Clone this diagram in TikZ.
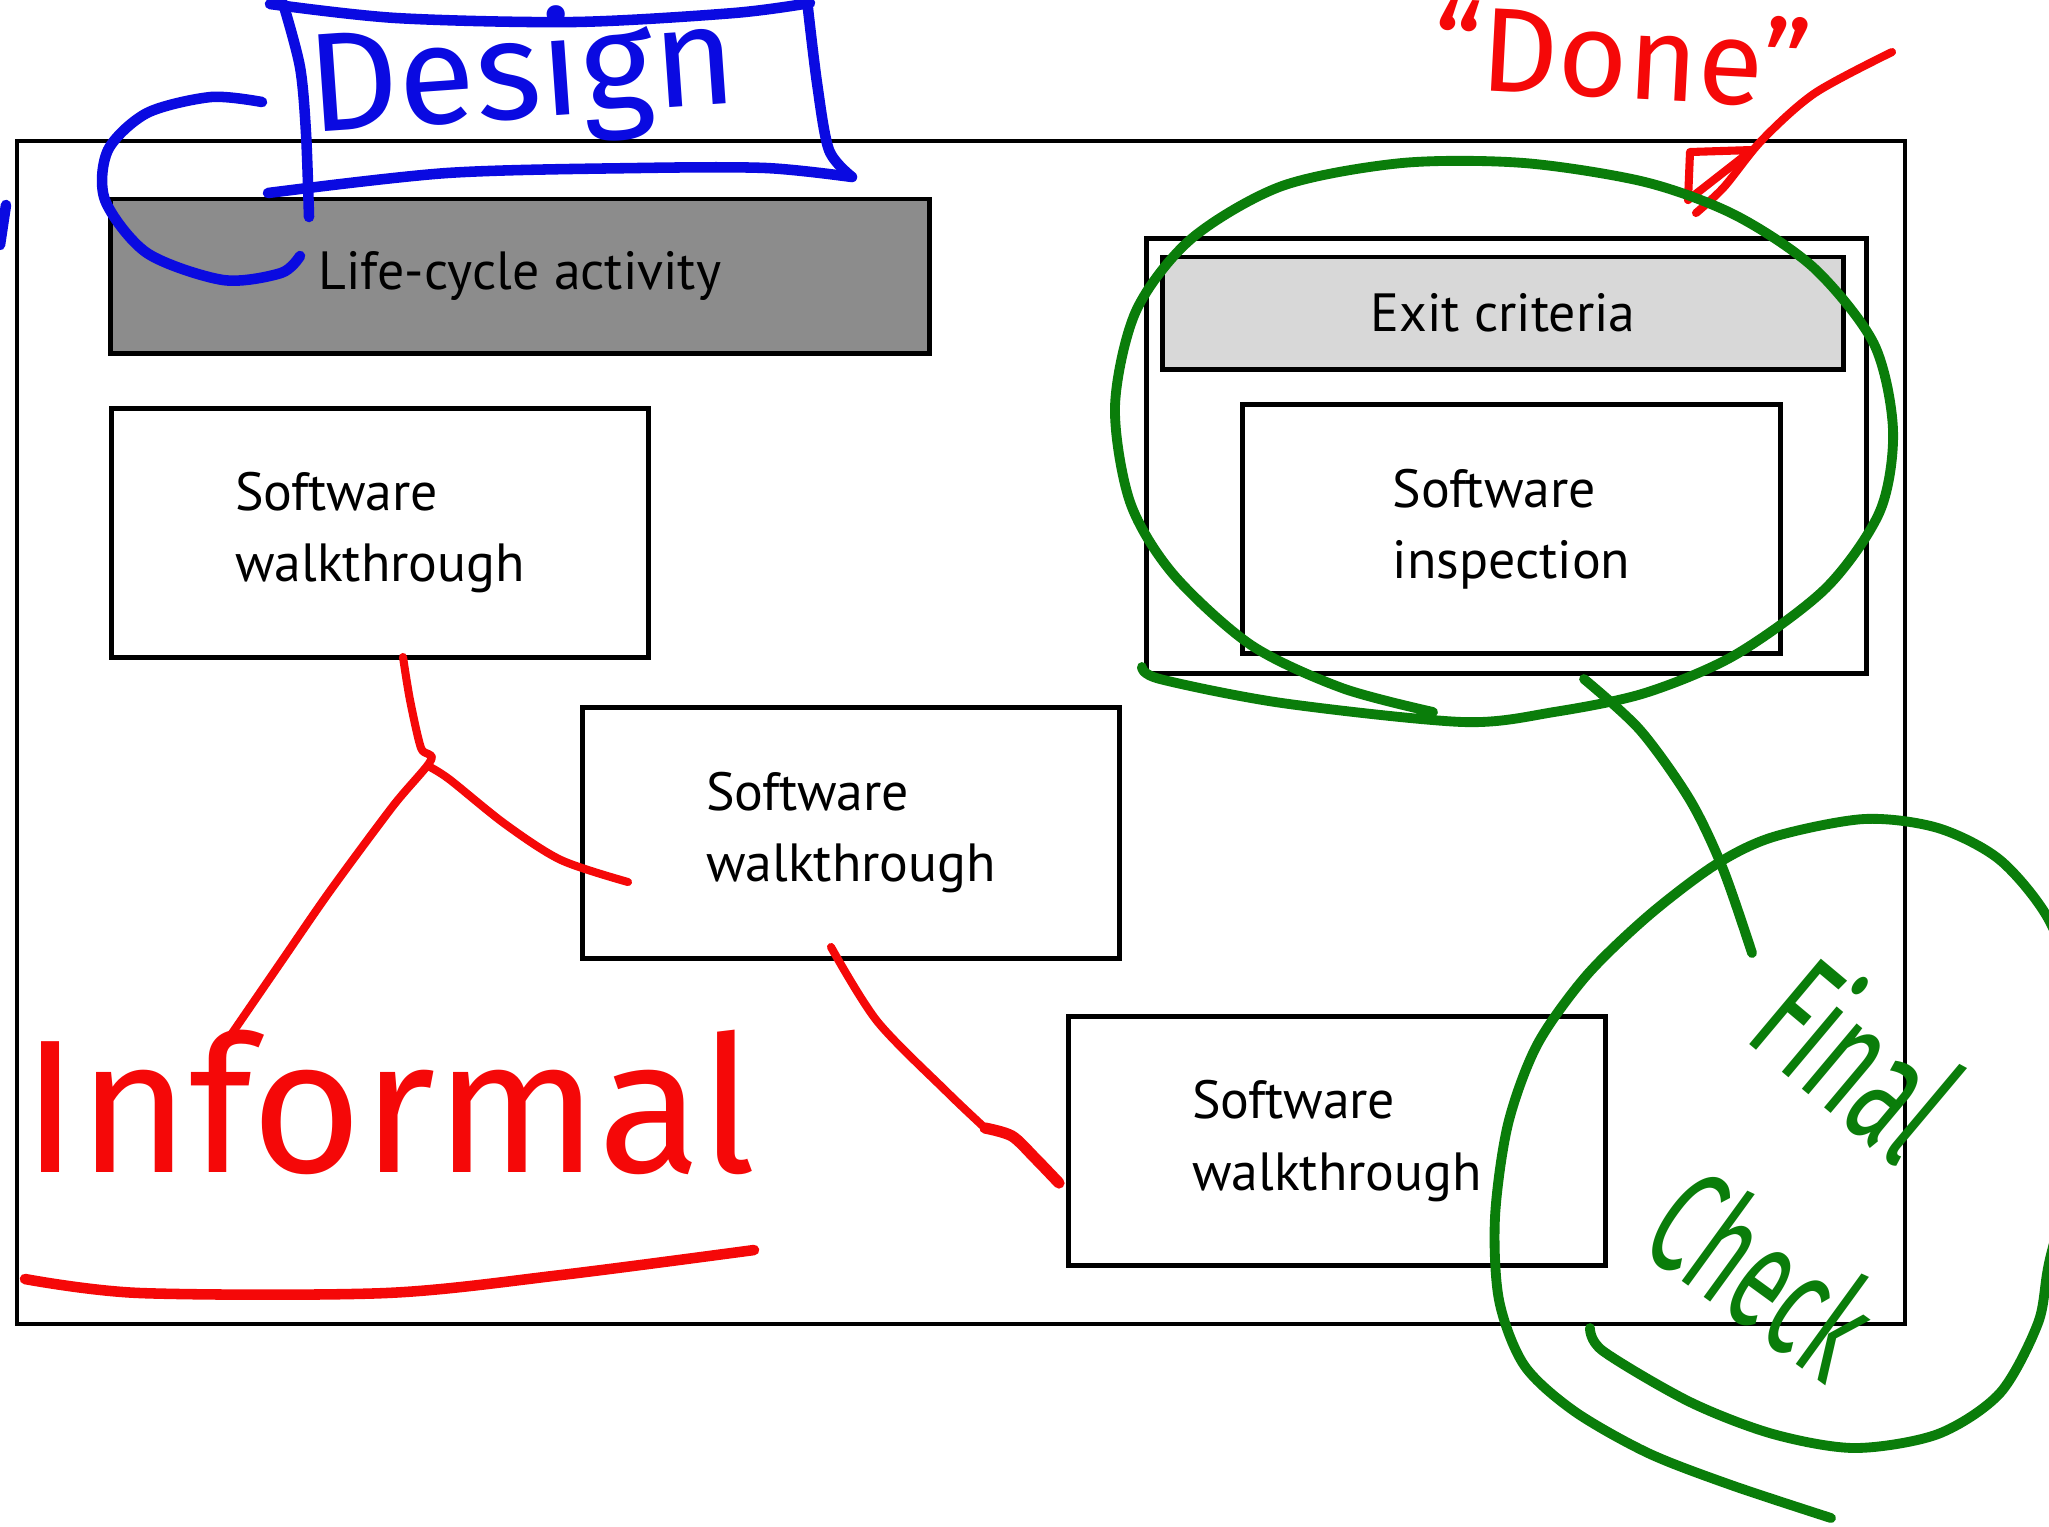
\documentclass[tikz,border=0pt]{standalone}
\usepackage{fontspec}
\setmainfont{PT Sans}
\newfontfamily\handfont{Fira Sans}
\newfontfamily\handnarrow{Fira Sans}[FakeStretch=0.58]
\definecolor{inkred}{RGB}{245,8,8}
\definecolor{inkblue}{RGB}{10,10,225}
\definecolor{inkgreen}{RGB}{10,125,10}
\definecolor{darkfill}{RGB}{140,140,140}
\definecolor{lightfill}{RGB}{216,216,216}

\begin{document}
\begin{tikzpicture}[x=0.01cm,y=-0.01cm]
  \tikzset{BoxStyle/.style  = {shape          = rectangle,
                               draw           = black,
                               line width     = 1.4pt,
                               fill           = white,
                               align          = left,
                               font           = \fontsize{15.3}{20.2}\selectfont,
                               inner sep      = 0pt,
                               outer sep      = 0pt,
                               minimum width  = 5.36cm,
                               minimum height = 2.48cm}}
  \tikzset{HeadStyle/.style = {BoxStyle,
                               align          = center,
                               minimum height = 1.12cm}}
  \tikzset{HandStyle/.style = {inner sep      = 0pt,
                               outer sep      = 0pt}}
  \tikzset{InkRed/.style    = {draw           = inkred,
                               line width     = 2.3pt,
                               line cap       = round,
                               line join      = round}}
  \tikzset{InkBlue/.style   = {InkRed,
                               draw           = inkblue,
                               line width     = 3pt}}
  \tikzset{InkGreen/.style  = {InkRed,
                               draw           = inkgreen,
                               line width     = 2.8pt}}
%                               line width     = 3.2pt}}

\useasboundingbox[fill=white] (0,0) rectangle (2049,1526);

\coordinate (F1) at (17,141);
\coordinate (F2) at (1905,1324);
\coordinate (L1) at (520,276);
\coordinate (W1) at (380,533);
\coordinate (W2) at (851,833);
\coordinate (W3) at (1337,1141);
\coordinate (E1) at (1506.5,456);
\coordinate (E2) at (1503,313);
\coordinate (I1) at (1511.5,529);

\draw [line width=1.2pt] (F1) rectangle (F2);

\draw (L1) node[HeadStyle, fill=darkfill, minimum width=8.18cm, minimum height=1.54cm] (lca) {Life-cycle activity};
\draw (W1) node[BoxStyle] (sw1) {Software\\walkthrough};
\draw (W2) node[BoxStyle, minimum height=2.50cm] (sw2) {Software\\walkthrough};
\draw (W3) node[BoxStyle] (sw3) {Software\\walkthrough};
\draw (E1) node[BoxStyle, minimum width=7.19cm, minimum height=4.34cm] (exit) {};
\draw (E2) node[HeadStyle, fill=lightfill, minimum width=6.80cm] (crit) {Exit criteria};
\draw (I1) node[BoxStyle, minimum width=5.37cm] (insp) {Software\\inspection};

% blue: Design
\draw[InkBlue] plot[smooth] coordinates {(270,4) (396,18) (574,22) (734,13) (810,3)};
\draw[InkBlue] plot[smooth] coordinates {(283,3) (300,67) (306,133) (309,217)};
\draw[InkBlue] plot[smooth] coordinates {(268,193) (447,173) (638,168) (766,168) (852,177)};
\draw[InkBlue] plot[smooth] coordinates {(807,0) (817,83) (829,150) (852,177)};
\draw[InkBlue] plot[smooth] coordinates {(262,102) (211,97) (147,113) (108,150) (105,200) (147,253) (223,280) (281,273) (300,256)};
\draw[InkBlue] (6,205) -- (0,245);
\draw (525,118) node[HandStyle, anchor=base, rotate=4, text=inkblue, font=\handfont\fontsize{40}{40}\selectfont] (design) {Design};

% red: Done
\draw (1620,98) node[HandStyle, anchor=base, rotate=-3, text=inkred, font=\handfont\fontsize{34}{34}\selectfont] (done) {“Done”};
\draw[InkRed] plot[smooth] coordinates {(1892,52) (1815,93) (1762,140) (1724,187) (1696,213)};
\draw[InkRed] (1690,152) -- (1752,150) -- (1688,200) -- cycle;

% red: Informal
\draw (389,1172) node[HandStyle, anchor=base, text=inkred, font=\handfont\fontsize{54}{54}\selectfont] (informal) {Informal};
\draw[InkRed] plot[smooth] coordinates {(403,657) (410,700) (421,748) (431,760) (393,806) (330,891) (281,962) (224,1045)};
\draw[InkRed] plot[smooth] coordinates {(428,766) (449,779) (505,824) (561,860) (628,882)};
\draw[InkRed, line width=3pt] plot[smooth] coordinates {(25,1279) (140,1293) (386,1293) (561,1275) (754,1250)};
\draw[InkRed] plot[smooth] coordinates {(831,947) (877,1021) (947,1092) (985,1128)};
\draw[InkRed, line width=3.2pt] plot[smooth] coordinates {(985,1128) (1012,1136) (1035,1158) (1059,1183)};

% green: Final Check
\draw[InkGreen] plot[smooth] coordinates {(1142,667) (1160,679) (1282,703) (1463,722) (1554,712) (1645,693) (1735,655) (1826,588) (1880,511) (1893,430) (1874,344) (1814,268) (1735,215) (1645,182) (1524,163) (1402,163) (1282,186) (1191,239) (1136,311) (1115,406) (1130,502) (1173,574) (1251,645) (1342,688) (1433,712)};
\draw[InkGreen] plot[smooth] coordinates {(1584,679) (1640,730) (1690,800) (1723,869) (1752,953)};
\draw[InkGreen] plot[smooth] coordinates {(1831,1518) (1731,1485) (1648,1453) (1574,1411) (1524,1365) (1499,1300) (1495,1217) (1508,1124) (1537,1045) (1586,976) (1648,916) (1715,865) (1773,837) (1864,819) (1938,828) (2000,860) (2049,920) (2075,1000) (2075,1150) (2049,1263) (2038,1323) (2000,1393) (1938,1434) (1855,1448) (1773,1434) (1690,1402) (1603,1351) (1590,1328)};
\draw (1860,1056) node[HandStyle, rotate=-40, text=inkgreen, font=\handnarrow\fontsize{46}{46}\selectfont] (final) {Final};
\draw (1764,1272) node[HandStyle, rotate=-36, text=inkgreen, font=\handnarrow\fontsize{43}{43}\selectfont] (check) {Check};

\end{tikzpicture}
\end{document}
